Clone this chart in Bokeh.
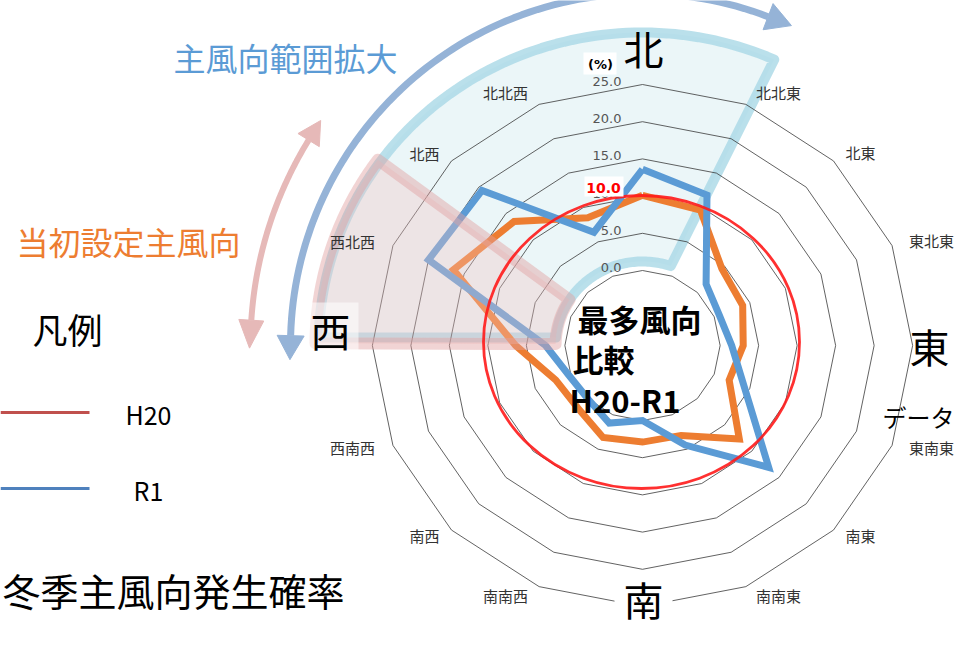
import math
from bokeh.plotting import figure
from bokeh.models import Range1d
from bokeh.core.properties import value
from bokeh.embed import file_html
from bokeh.resources import INLINE

# ---------------- data ----------------
directions = ["北", "北北東", "北東", "東北東", "東", "東南東", "南東", "南南東",
              "南", "南南西", "南西", "西南西", "西", "西北西", "北西", "北北西"]
h20 = [10.1, 9.6, 4.5, 4.0, 3.0, 2.1, 7.7, 3.0, 2.9, 3.3, 1.8, 2.1, 6.4, 16.5, 13.5, 8.5]
r1 = [13.6, 11.8, 1.6, 0.7, 1.5, 4.2, 13.1, 4.4, 0.0, 1.2, 0.0, 0.3, 2.5, 20.0, 19.4, 6.4]
ring_ticks = [0, 5, 10, 15, 20, 25]
highlight_tick = 10
series_names = ["H20", "R1"]

# ---------------- layout ----------------
CX, CY = 642, 345          # radar centre
R0, K = 75.0, 7.44         # radius of the 0 % ring, pixels per %
SX = 1.035                 # horizontal stretch of the radar
FONT = value("Noto Sans CJK JP")

def radar_xy(vals):
    xs, ys = [], []
    n = len(vals)
    for i, v in enumerate(vals):
        th = math.radians(360.0 * i / n)
        r = R0 + K * v
        xs.append(CX + SX * r * math.sin(th))
        ys.append(CY - r * math.cos(th))
    return xs + xs[:1], ys + ys[:1]

def arc(r, th1, th2, n=80, sx=1.0):
    xs, ys = [], []
    for k in range(n + 1):
        th = math.radians(th1 + (th2 - th1) * k / n)
        xs.append(CX + sx * r * math.sin(th))
        ys.append(CY - r * math.cos(th))
    return xs, ys

def head(r, th_deg, s, L, W):
    th = math.radians(th_deg)
    bx, by = CX + r * math.sin(th), CY - r * math.cos(th)
    tx, ty = math.cos(th) * s, math.sin(th) * s
    nx, ny = -ty, tx
    return ([bx + W / 2 * nx, bx + L * tx, bx - W / 2 * nx],
            [by + W / 2 * ny, by + L * ty, by - W / 2 * ny])

p = figure(width=954, height=629, x_range=Range1d(0, 954), y_range=Range1d(629, 0),
           output_backend="svg", toolbar_location=None, min_border=0,
           x_axis_location=None, y_axis_location=None)
p.grid.visible = False
p.outline_line_color = None
p.background_fill_color = "white"

# ---- light blue sector (main wind direction range, expanded) ----
ob_x, ob_y = arc(313, -88.5, 24, sx=SX)
ib_x, ib_y = arc(84, 19, -84.5, sx=SX)
p.patch(ob_x + ib_x, ob_y + ib_y, fill_color="#DAEEF3", fill_alpha=0.55,
        line_color="#A9D8E6", line_alpha=0.8, line_width=10, line_join="round")

# ---- rings ----
for t in ring_ticks:
    xs, ys = radar_xy([t] * len(directions))
    p.line(xs, ys, line_color="#3a3a3a", line_width=0.8)

# ring labels
lab_y = [CY - (R0 + K * t) - 3 for t in ring_ticks]
p.text(x=[621] * len(ring_ticks), y=lab_y, text=["%.1f" % t for t in ring_ticks],
       text_font=value("DejaVu Sans"), text_font_size="13px", text_color="#555555",
       text_align="right", text_baseline="middle")

# ---- series ----
hx, hy = radar_xy(h20)
p.line(hx, hy, line_color="#ED7D31", line_width=7, line_join="miter")
rx_, ry_ = radar_xy(r1)
p.line(rx_, ry_, line_color="#5B9BD5", line_width=7, line_join="miter")

# ---- pink sector (initially set main wind direction) ----
po_x, po_y = arc(316, -89.6, -54, sx=SX)
pi_x, pi_y = arc(84, -57, -89.0, sx=SX)
p.patch(po_x + pi_x, po_y + pi_y, fill_color="#F2C4C4", fill_alpha=0.35,
        line_color="#E0A0A0", line_alpha=0.45, line_width=12, line_join="round")

# ---- red ellipse (10 %) ----
p.ellipse(x=[641], y=[341.5], width=[316], height=[293], fill_color=None,
          line_color="#FF1A1A", line_width=2.8, line_alpha=0.9)

# white label boxes
p.quad(left=[583, 584, 614], right=[616, 623, 672], top=[52, 176, 580],
       bottom=[74, 196, 629], fill_color="white", line_color=None)
p.quad(left=[305], right=[358], top=[302], bottom=[352], fill_color="white",
       fill_alpha=0.55, line_color=None)

p.text(x=[603], y=[187], text=["%.1f" % highlight_tick], text_font=value("DejaVu Sans"),
       text_font_style="bold", text_font_size="14px", text_color="#FF0000",
       text_align="center", text_baseline="middle")
p.text(x=[600], y=[64], text=["(%)"], text_font=value("DejaVu Sans"),
       text_font_style="bold", text_font_size="13px", text_color="black",
       text_align="center", text_baseline="middle")

# ---- direction labels ----
small_pos = {"北北東": (778, 92), "北東": (860, 152), "東北東": (931, 240),
             "東南東": (931, 447), "南東": (860, 535), "南南東": (778, 595),
             "南南西": (505, 595), "南西": (424, 535), "西南西": (352, 447),
             "西北西": (352, 241), "北西": (424, 153), "北北西": (505, 92)}
big_pos = {"北": (643, 47), "東": (929, 345), "南": (643, 598), "西": (330, 329)}
sx_, sy_, st_ = [], [], []
bx_, by_, bt_ = [], [], []
for d in directions:
    if d in small_pos:
        sx_.append(small_pos[d][0]); sy_.append(small_pos[d][1]); st_.append(d)
    else:
        bx_.append(big_pos[d][0]); by_.append(big_pos[d][1]); bt_.append(d)
p.text(x=sx_, y=sy_, text=st_, text_font=FONT, text_font_size="15px",
       text_color="#333333", text_align="center", text_baseline="middle")
p.text(x=bx_, y=by_, text=bt_, text_font=FONT, text_font_size="40px",
       text_color="black", text_align="center", text_baseline="middle")

# ---- centre text ----
p.text(x=[577, 572, 569], y=[318, 358, 399], text=["最多風向", "比較", "H20-R1"],
       text_font=FONT, text_font_style="bold", text_font_size="31px",
       text_color="black", text_align="left", text_baseline="middle")

# ---- arrows ----
ax, ay = arc(352, -88.4, 20.9)
p.line(ax, ay, line_color="#95B3D7", line_width=7)
for th, s, L, W in [(-88.4, -1, 24, 27), (20.9, 1, 25, 28)]:
    hx_, hy_ = head(352, th, s, L, W)
    p.patch(hx_, hy_, fill_color="#95B3D7", line_color="#95B3D7", line_width=1)
ax, ay = arc(392, -86.3, -58.4)
p.line(ax, ay, line_color="#E6B9B8", line_width=6)
for th, s, L, W in [(-86.3, -1, 28, 25), (-58.4, 1, 23, 25)]:
    hx_, hy_ = head(392, th, s, L, W)
    p.patch(hx_, hy_, fill_color="#E6B9B8", line_color="#E6B9B8", line_width=1)

p.text(x=[285], y=[56], text=["主風向範囲拡大"], text_font=FONT, text_font_size="32px",
       text_color="#5B9BD5", text_align="center", text_baseline="middle")
p.text(x=[128], y=[240], text=["当初設定主風向"], text_font=FONT, text_font_size="32px",
       text_color="#ED7D31", text_align="center", text_baseline="middle")

# ---- legend ----
p.text(x=[67], y=[328], text=["凡例"], text_font=FONT, text_font_size="35px",
       text_color="black", text_align="center", text_baseline="middle")
legend_colors = ["#C0504D", "#4F81BD"]
legend_y = [412, 488]
legend_tx = [125, 133]
for name, c, ly, tx in zip(series_names, legend_colors, legend_y, legend_tx):
    p.line([0, 89], [ly, ly], line_color=c, line_width=3)
    p.text(x=[tx], y=[ly + 1], text=[name], text_font=FONT, text_font_size="25px",
           text_color="black", text_align="left", text_baseline="middle")

p.text(x=[2], y=[589], text=["冬季主風向発生確率"], text_font=FONT, text_font_size="38px",
       text_color="black", text_align="left", text_baseline="middle")
p.text(x=[882], y=[416], text=["データ"], text_font=FONT, text_font_size="24px",
       text_color="black", text_align="left", text_baseline="middle")

open("out.html", "w").write(file_html(p, INLINE))
